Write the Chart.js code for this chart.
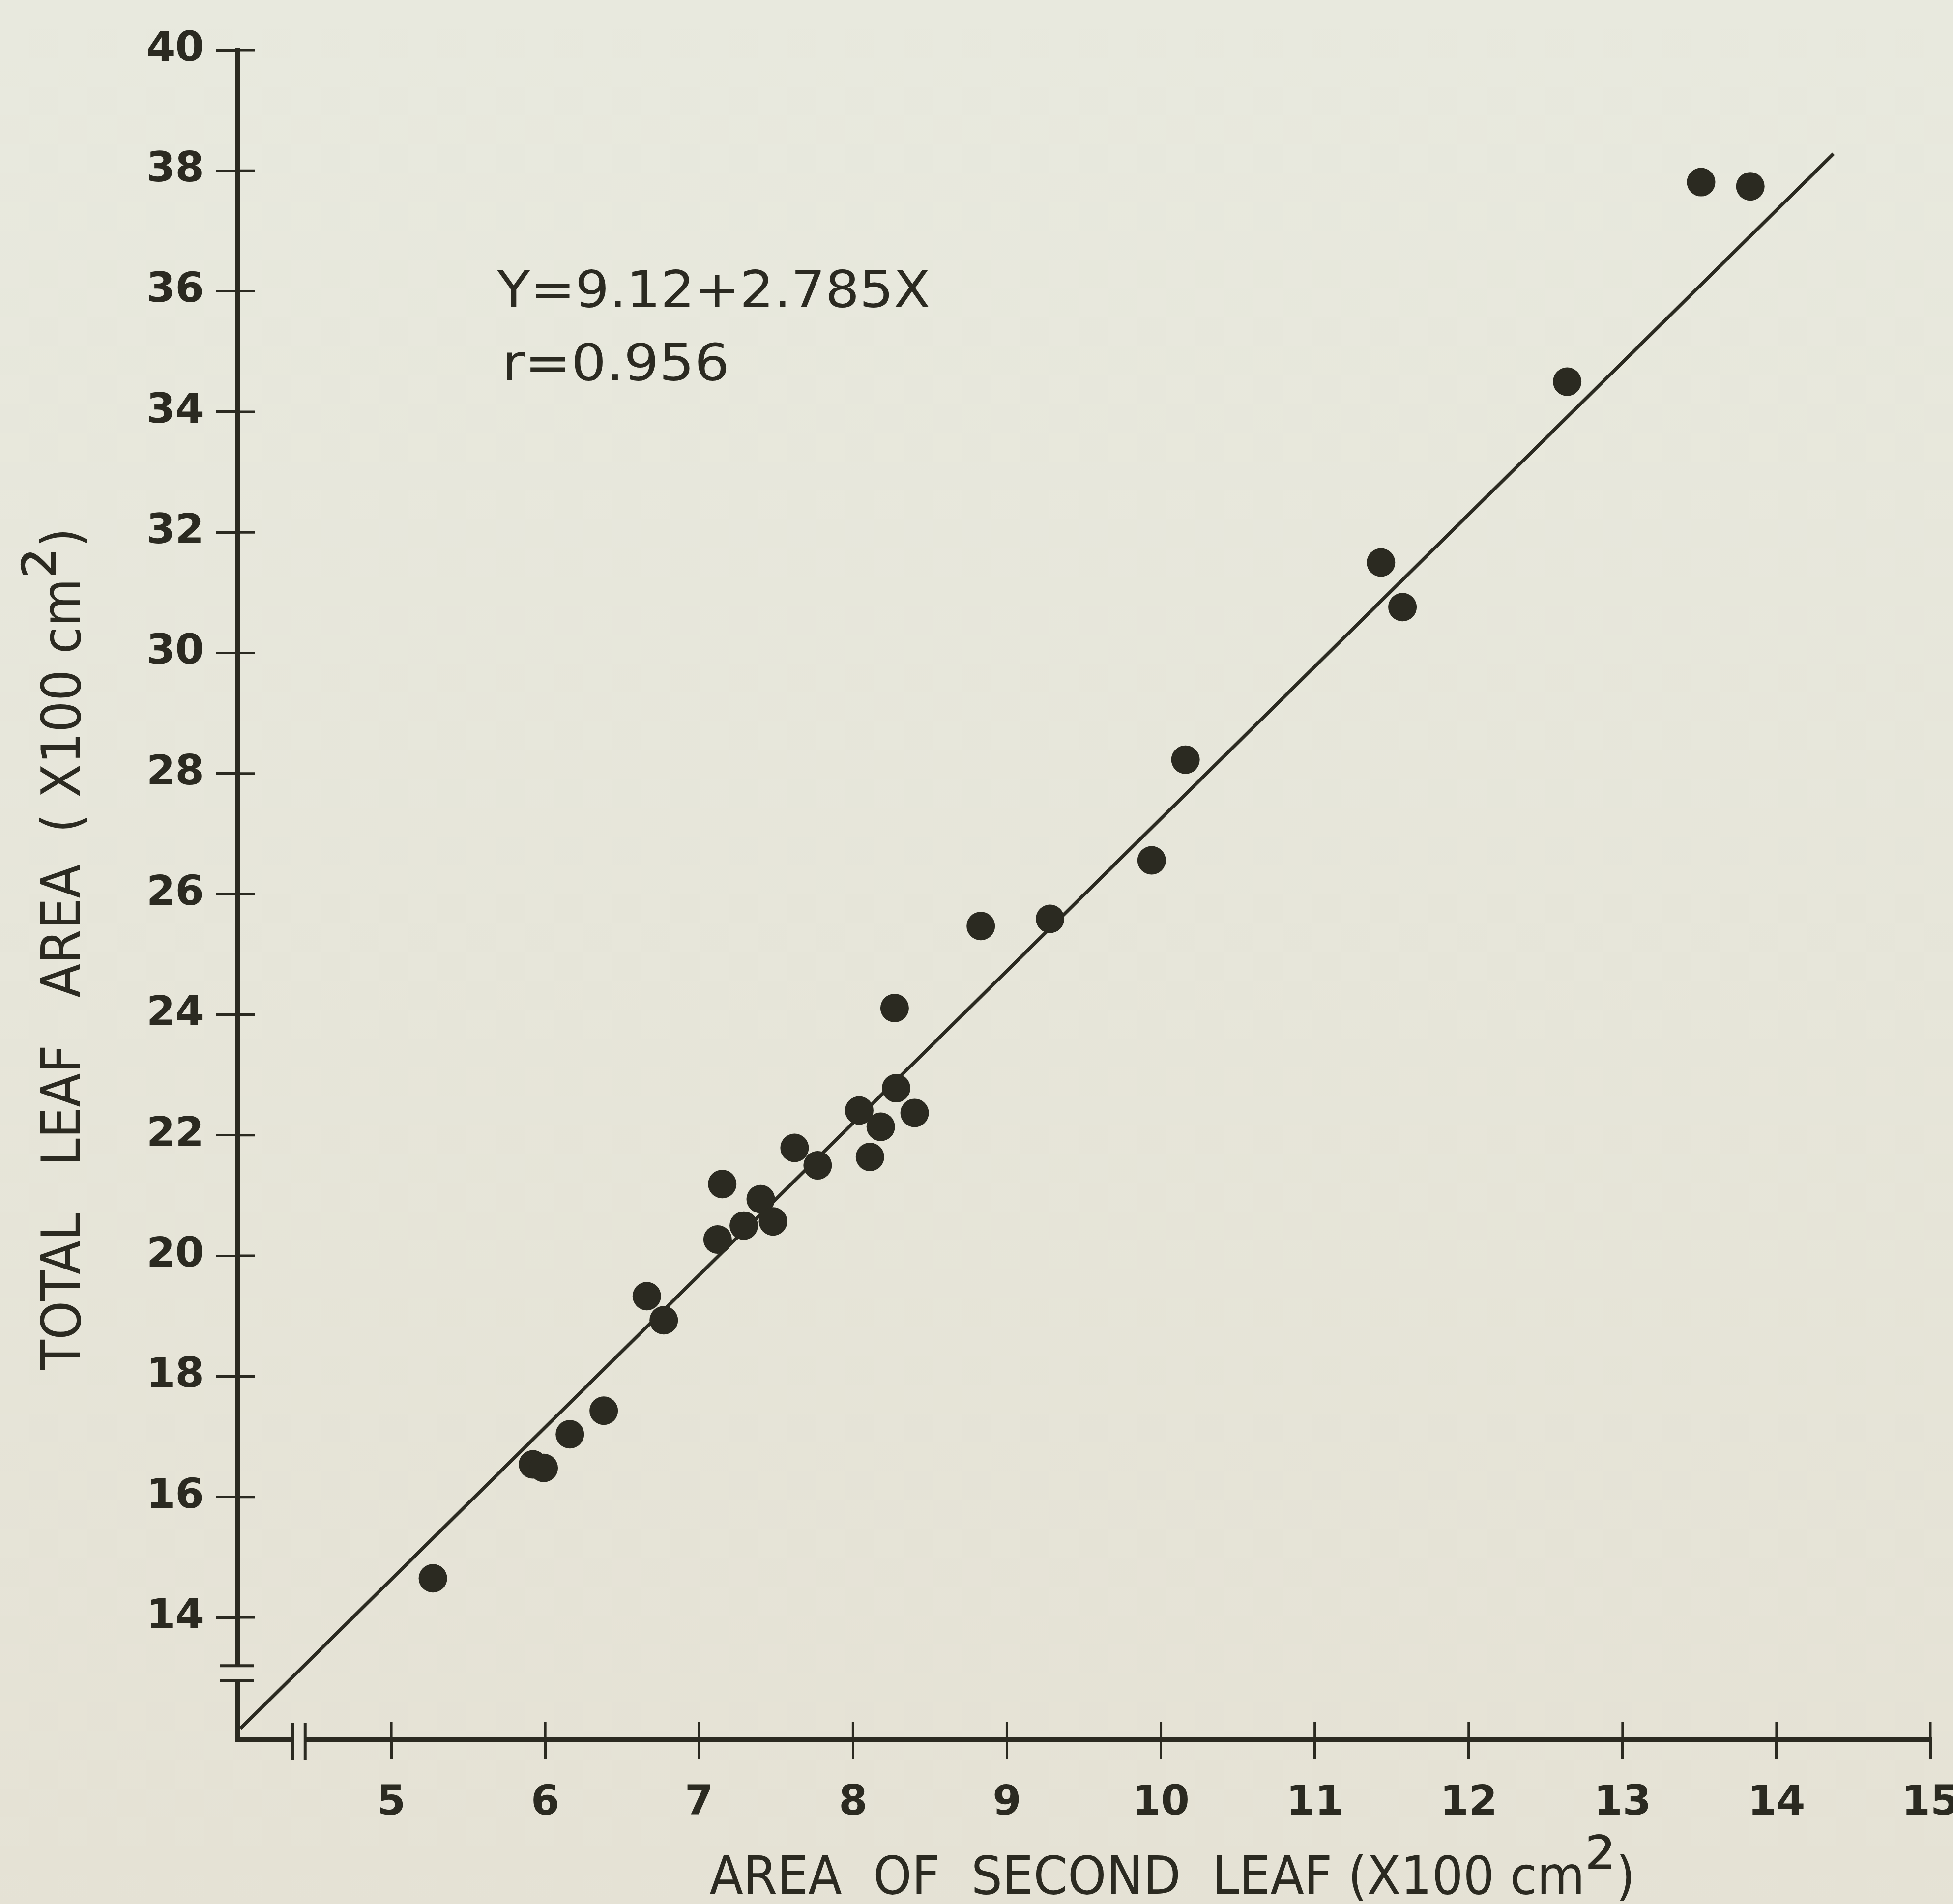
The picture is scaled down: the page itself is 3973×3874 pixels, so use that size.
<!DOCTYPE html>
<html>
<head>
<meta charset="utf-8">
<script src="https://cdn.jsdelivr.net/npm/chart.js@4.4.1/dist/chart.umd.min.js"></script>
<style>
    html, body { margin: 0; padding: 0; }
    body { background: linear-gradient(#e8e9de, #e5e2d5); width: 3973px; height: 3874px; }
    #caja { width: 3973px; height: 3874px; }
</style>
</head>
<body>
<div id="caja"><canvas id="grafico" width="3973" height="3874"></canvas></div>
<script>
// area of second leaf (X100 cm2) against total leaf area (X100 cm2)
var hoja_x = [5.27, 5.92, 5.99, 6.16, 6.38, 6.66, 6.77, 7.12, 7.15, 7.29, 7.40, 7.48, 7.62, 7.77,
              8.04, 8.11, 8.18, 8.28, 8.27, 8.40, 8.83, 9.28, 9.94, 10.16, 11.43, 11.57, 12.64, 13.51, 13.83];
var hoja_y = [14.65, 16.54, 16.48, 17.04, 17.43, 19.33, 18.93, 20.27, 21.19, 20.50, 20.94, 20.57, 21.79, 21.50,
              22.41, 21.64, 22.14, 22.78, 24.11, 22.37, 25.47, 25.59, 26.56, 28.23, 31.50, 30.76, 34.50, 37.81, 37.74];

// fitted line, both ends as drawn
var recta_x = [4.02, 14.37];
var recta_y = [12.16, 38.28];

var ticks_x = [5, 6, 7, 8, 9, 10, 11, 12, 13, 14, 15];
var ticks_y = [14, 16, 18, 20, 22, 24, 26, 28, 30, 32, 34, 36, 38, 40];

var ecuacion = "Y=9.12+2.785X";
var coef_r = "r=0.956";
var titulo_x = "AREA  OF  SECOND  LEAF (X100 cm";
var titulo_y = "TOTAL   LEAF   AREA  ( X100 cm";

var tinta = "#2b2a21";
var letra = "DejaVu Sans";

// draws pieces of text in a row, squeezed to a given width, centred on 0
function textoAjustado(ctx, partes, ancho) {
    var total = 0;
    partes.forEach(function(p) {
        ctx.font = p.f;
        p.w = ctx.measureText(p.t).width;
        total += p.w;
    });
    var esc = ancho / total;
    ctx.save();
    ctx.scale(esc, 1);
    var x = -total / 2;
    partes.forEach(function(p) {
        ctx.font = p.f;
        ctx.fillText(p.t, x, p.dy || 0);
        x += p.w;
    });
    ctx.restore();
}

var decoracion = {
    id: 'decoracion',
    afterDraw: function(chart) {
        var ctx = chart.ctx;
        var sx = chart.scales.x;
        var sy = chart.scales.y;
        var area = chart.chartArea;

        ctx.save();
        ctx.strokeStyle = tinta;
        ctx.fillStyle = tinta;
        ctx.lineWidth = 5;

        // inner half of the crossing ticks
        ctx.beginPath();
        sy.ticks.forEach(function(t) {
            var p = sy.getPixelForValue(t.value);
            ctx.moveTo(area.left, p);
            ctx.lineTo(area.left + 36, p);
        });
        sx.ticks.forEach(function(t) {
            var p = sx.getPixelForValue(t.value);
            ctx.moveTo(p, area.bottom);
            ctx.lineTo(p, area.bottom - 37);
        });
        ctx.stroke();

        // axis breaks
        var y1 = sy.getPixelForValue(13.2), y2 = sy.getPixelForValue(12.95);
        ctx.clearRect(area.left - 10, y1, 20, y2 - y1);
        var x1 = sx.getPixelForValue(4.36), x2 = sx.getPixelForValue(4.44);
        ctx.clearRect(x1, area.bottom - 10, x2 - x1, 20);
        ctx.lineWidth = 6;
        ctx.beginPath();
        [y1, y2].forEach(function(p) {
            ctx.moveTo(area.left - 36, p);
            ctx.lineTo(area.left + 34, p);
        });
        [x1, x2].forEach(function(p) {
            ctx.moveTo(p, area.bottom - 35);
            ctx.lineTo(p, area.bottom + 41);
        });
        ctx.stroke();

        // equation and r
        ctx.textAlign = 'left';
        ctx.textBaseline = 'alphabetic';
        ctx.save();
        ctx.translate(sx.getPixelForValue(5.69) + 440, sy.getPixelForValue(35.74));
        textoAjustado(ctx, [{t: ecuacion, f: '104px ' + letra}], 881);
        ctx.restore();
        ctx.save();
        ctx.translate(sx.getPixelForValue(5.72) + 231, sy.getPixelForValue(34.52));
        textoAjustado(ctx, [{t: coef_r, f: '104px ' + letra}], 463);
        ctx.restore();

        // axis titles
        ctx.save();
        ctx.translate((area.left + area.right) / 2 + 180, 3853);
        textoAjustado(ctx, [
            {t: titulo_x, f: '107px ' + letra},
            {t: '\u00b2', f: '170px ' + letra, dy: 6},
            {t: ')', f: '107px ' + letra}
        ], 1883);
        ctx.restore();

        ctx.save();
        ctx.translate(163, 1931);
        ctx.rotate(-Math.PI / 2);
        textoAjustado(ctx, [
            {t: titulo_y, f: '110px ' + letra},
            {t: '\u00b2', f: '172px ' + letra, dy: 6},
            {t: ')', f: '110px ' + letra}
        ], 1713);
        ctx.restore();

        ctx.restore();
    }
};

var puntos = hoja_x.map(function(v, i) { return {x: v, y: hoja_y[i]}; });
var recta = recta_x.map(function(v, i) { return {x: v, y: recta_y[i]}; });

var canvas = document.getElementById('grafico').getContext('2d');
window.grafico = new Chart(canvas, {
    type: 'scatter',
    data: {
        datasets: [{
                label: 'datos',
                data: puntos,
                pointRadius: 29,
                pointHoverRadius: 29,
                pointBackgroundColor: tinta,
                pointBorderColor: tinta,
                pointBorderWidth: 0
            },
            {
                label: 'recta',
                data: recta,
                showLine: true,
                borderColor: tinta,
                borderWidth: 7,
                pointRadius: 0,
                fill: false
            }
        ]
    },
    options: {
        responsive: false,
        animation: false,
        events: [],
        layout: { padding: { left: 0, right: 46, top: 102, bottom: 0 } },
        plugins: {
            legend: { display: false },
            tooltip: { enabled: false }
        },
        scales: {
            x: {
                type: 'linear',
                position: 'bottom',
                min: 4.0,
                max: 15.0,
                afterBuildTicks: function(s) {
                    s.ticks = ticks_x.map(function(v) { return {value: v}; });
                },
                afterFit: function(s) {
                    s.height = 334;
                    s.paddingLeft = 0;
                    s.paddingRight = 0;
                },
                grid: { drawOnChartArea: false, drawTicks: true, tickLength: 38, color: tinta, lineWidth: 5 },
                border: { display: true, color: tinta, width: 10 },
                ticks: {
                    font: { family: letra, size: 84, weight: 'bold' },
                    color: tinta,
                    padding: 42,
                    maxRotation: 0,
                    autoSkip: false,
                    callback: function(v) { return String(v); }
                }
            },
            y: {
                type: 'linear',
                position: 'left',
                min: 11.97,
                max: 40,
                afterBuildTicks: function(s) {
                    s.ticks = ticks_y.map(function(v) { return {value: v}; });
                },
                afterFit: function(s) {
                    s.width = 483;
                    s.paddingTop = 0;
                    s.paddingBottom = 0;
                },
                grid: { drawOnChartArea: false, drawTicks: true, tickLength: 43, color: tinta, lineWidth: 5 },
                border: { display: true, color: tinta, width: 10 },
                ticks: {
                    font: { family: letra, size: 84, weight: 'bold' },
                    color: tinta,
                    padding: 25,
                    autoSkip: false,
                    callback: function(v) { return String(v); }
                }
            }
        }
    },
    plugins: [decoracion]
});
</script>
</body>
</html>
